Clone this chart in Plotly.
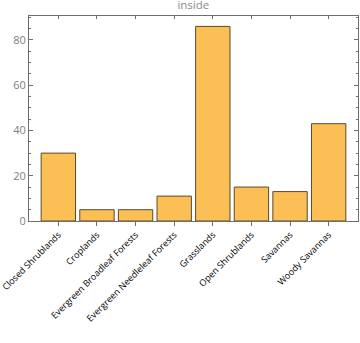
import plotly.graph_objects as go

categories = ["Closed Shrublands", "Croplands", "Evergreen Broadleaf Forests",
              "Evergreen Needleleaf Forests", "Grasslands", "Open Shrublands",
              "Savannas", "Woody Savannas"]
values = [30, 5, 5, 11, 86, 15, 13, 43]
title = "inside"

fig = go.Figure()
fig.add_trace(go.Bar(
    x=categories, y=values,
    marker=dict(color="#FBBF55", line=dict(color="#5A4A2C", width=1)),
    width=0.89,
))
fig.add_trace(go.Scatter(x=categories, y=[None]*len(categories), xaxis="x2",
                         showlegend=False, hoverinfo="skip", mode="markers"))

fig.update_layout(
    width=360, height=343,
    margin=dict(l=29, r=2, t=16, b=122, autoexpand=False),
    paper_bgcolor="white", plot_bgcolor="white",
    showlegend=False,
    font=dict(family="Open Sans", size=11, color="#808080"),
    title=dict(text=title, x=0.537, xanchor="center", xref="container",
               y=0.9985, yref="container", yanchor="top", pad=dict(t=0, b=0),
               font=dict(size=11.5, color="#8a8a8a")),
    xaxis=dict(
        type="category", range=[-0.76, 7.76], automargin=False,
        showline=True, linecolor="#6e6e6e", linewidth=1,
        ticks="outside", ticklen=4, tickcolor="#6e6e6e",
        tickangle=-45, tickfont=dict(size=9, color="black", family="Open Sans"),
        showgrid=False, zeroline=False,
    ),
    xaxis2=dict(
        type="category", range=[-0.76, 7.76], overlaying="x", side="top",
        automargin=False,
        showline=True, linecolor="#6e6e6e", linewidth=1,
        ticks="inside", ticklen=3, tickcolor="#6e6e6e",
        showticklabels=False, showgrid=False, zeroline=False,
    ),
    yaxis=dict(
        range=[0, 90.6], automargin=False,
        showline=True, linecolor="#6e6e6e", linewidth=1,
        mirror="ticks", ticks="inside", ticklen=4, tickcolor="#6e6e6e",
        tick0=0, dtick=20, showgrid=False, zeroline=False,
        tickfont=dict(size=11, color="#808080"),
        minor=dict(dtick=5, ticks="inside", ticklen=2, tickcolor="#6e6e6e", showgrid=False),
    ),
    bargap=0.11,
)

fig.write_html("out.html")
